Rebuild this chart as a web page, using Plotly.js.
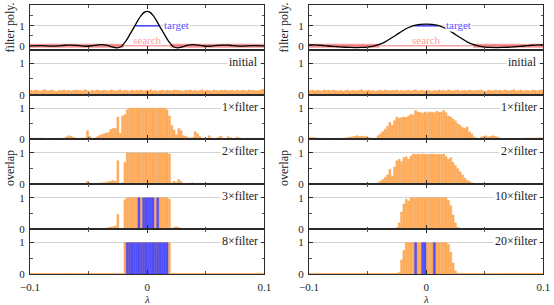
<!DOCTYPE html>
<html><head><meta charset="utf-8">
<script src="https://cdn.plot.ly/plotly-3.0.1.min.js"></script>
<style>html,body{margin:0;padding:0;background:#fff}#plot{width:554px;height:305px}</style>
</head><body><div id="plot"></div>
<script>
// eigenvalue positions (lambda)
const lambdas = [-0.099,-0.097,-0.095,-0.093,-0.091,-0.089,-0.087,-0.085,-0.083,-0.081,
-0.079,-0.077,-0.075,-0.073,-0.071,-0.069,-0.067,-0.065,-0.063,-0.061,
-0.059,-0.057,-0.055,-0.053,-0.051,-0.049,-0.047,-0.045,-0.043,-0.041,
-0.039,-0.037,-0.035,-0.033,-0.031,-0.029,-0.027,-0.025,-0.023,-0.021,
-0.019,-0.017,-0.015,-0.013,-0.011,-0.009,-0.007,-0.005,-0.003,-0.001,
0.001,0.003,0.005,0.007,0.009,0.011,0.013,0.015,0.017,0.019,
0.021,0.023,0.025,0.027,0.029,0.031,0.033,0.035,0.037,0.039,
0.041,0.043,0.045,0.047,0.049,0.051,0.053,0.055,0.057,0.059,
0.061,0.063,0.065,0.067,0.069,0.071,0.073,0.075,0.077,0.079,
0.081,0.083,0.085,0.087,0.089,0.091,0.093,0.095,0.097,0.099];

// filter polynomials
const polyLeftX = [-0.1,-0.09,-0.08,-0.07,-0.065,-0.06,-0.055,-0.05,-0.045,-0.04,-0.035,-0.03,-0.026,-0.022,-0.02,-0.0175,-0.015,-0.0125,-0.01,-0.0075,-0.005,-0.0025,0,
0.0025,0.005,0.0075,0.01,0.0125,0.015,0.0175,0.02,0.022,0.026,0.03,0.035,0.04,0.045,0.05,0.055,0.06,0.065,0.07,0.08,0.09,0.1];
const polyLeftY = [0.0,0.01,-0.01,0.03,0.04,0.02,-0.01,-0.02,0.02,0.06,0.04,-0.05,-0.1,-0.03,0.1,0.3,0.55,0.8,1.05,1.32,1.53,1.68,1.73,
1.68,1.53,1.32,1.05,0.8,0.55,0.3,0.1,-0.03,-0.1,-0.05,0.04,0.06,0.02,-0.02,-0.01,0.02,0.04,0.03,-0.01,0.01,0.0];
const polyRightX = [-0.1,-0.095,-0.09,-0.085,-0.08,-0.075,-0.07,-0.065,-0.06,-0.055,-0.05,-0.045,-0.04,-0.035,-0.03,-0.025,-0.02,-0.015,-0.01,-0.005,0,
0.005,0.01,0.015,0.02,0.025,0.03,0.035,0.04,0.045,0.05,0.055,0.06,0.065,0.07,0.075,0.08,0.085,0.09,0.095,0.1];
const polyRightY = [0.05,0.05,0.03,0.0,-0.03,-0.05,-0.07,-0.08,-0.085,-0.08,-0.06,-0.01,0.07,0.2,0.38,0.57,0.76,0.92,1.03,1.08,1.09,
1.08,1.03,0.92,0.76,0.57,0.38,0.2,0.07,-0.01,-0.06,-0.08,-0.085,-0.08,-0.07,-0.05,-0.03,0.0,0.03,0.05,0.05];

// target window and search (stop band) specification
const targetX = [-0.01, 0.01];
const targetY = [1, 1];
const searchLeftEdge = 0.02;
const searchRightEdge = 0.04;
const searchTol = 0.1;

// overlaps, left column
const leftInitial = [0.14,0.12,0.15,0.13,0.11,0.14,0.16,0.12,0.13,0.15,
0.12,0.10,0.14,0.13,0.15,0.12,0.14,0.11,0.13,0.15,
0.13,0.14,0.12,0.16,0.13,0.11,0.14,0.12,0.15,0.13,
0.12,0.14,0.13,0.11,0.15,0.14,0.12,0.13,0.16,0.12,
0.14,0.13,0.11,0.15,0.12,0.14,0.13,0.15,0.12,0.14,
0.13,0.16,0.12,0.14,0.11,0.13,0.15,0.12,0.14,0.13,
0.12,0.15,0.13,0.14,0.12,0.11,0.14,0.13,0.15,0.12,
0.14,0.12,0.13,0.16,0.12,0.14,0.13,0.11,0.15,0.13,
0.12,0.14,0.13,0.15,0.12,0.13,0.14,0.11,0.15,0.12,
0.14,0.13,0.12,0.15,0.13,0.14,0.12,0.13,0.15,0.17];
const left1x = [0.02,0.04,0.05,0.03,0.05,0.04,0.03,0.01,0.00,0.02,
0.03,0.03,0.02,0.04,0.03,0.08,0.12,0.10,0.07,0.05,
0.03,0.05,0.04,0.05,0.28,0.10,0.05,0.02,0.08,0.12,
0.15,0.18,0.20,0.22,0.32,0.35,0.36,0.72,0.20,0.75,
0.80,0.95,1,1,1,1,1,1,1,1,
1,1,1,1,1,1,1,1,0.95,0.75,
0.45,0.30,0.15,0.35,0.28,0.12,0.10,0.06,0.05,0.06,
0.25,0.18,0.10,0.03,0.05,0.04,0.12,0.05,0.02,0.03,
0.08,0.10,0.04,0.03,0.09,0.06,0.02,0.04,0.08,0.05,
0.02,0.03,0.05,0.04,0.02,0.05,0.03,0.04,0.02,0.03];
const left2x = [0,0,0,0,0.01,0,0,0,0,0,
0,0,0,0,0.01,0.02,0.01,0,0,0.01,
0.02,0.01,0.03,0.02,0.10,0.03,0.02,0.03,0.04,0.03,
0.05,0.05,0.06,0.08,0.10,0.12,0.10,0.75,0.02,0.05,
0.70,1,1,1,1,1,1,1,1,1,
1,1,1,1,1,1,1,1,1,0.97,
0.05,0.10,0.06,0.15,0.08,0.02,0.01,0.02,0.04,0.05,
0.02,0.04,0.01,0.01,0.02,0.01,0.02,0.01,0.01,0.02,
0.01,0,0.01,0,0.01,0,0,0.01,0,0,
0,0.01,0,0,0,0.01,0,0,0,0];
const left3x = [0,0,0,0,0,0,0,0,0,0,
0,0,0,0,0,0.01,0,0,0,0,
0.01,0,0.01,0.01,0.03,0.01,0.01,0.01,0.02,0.01,
0.01,0.02,0.03,0.05,0.07,0.08,0.10,0.47,0,0.02,
0.94,1,1,1,1,1,1,1,1,1,
1,1,1,1,1,1,1,1,1,0.95,
0.02,0.05,0.08,0.05,0.03,0.01,0.01,0.01,0.01,0.01,
0.01,0.02,0,0,0.01,0,0,0,0,0,
0,0,0,0,0,0,0,0,0,0,
0,0,0,0,0,0,0,0,0,0];
const left8x = [0.02,0.02,0.02,0.02,0.02,0.02,0.02,0.02,0.02,0.02,
0.02,0.02,0.02,0.02,0.02,0.02,0.02,0.02,0.02,0.02,
0.02,0.02,0.02,0.02,0.02,0.02,0.02,0.02,0.02,0.02,
0.02,0.02,0.02,0.02,0.02,0.02,0.02,0.02,0.02,0.02,
1,1,1,1,1,1,1,1,1,1,
1,1,1,1,1,1,1,1,1,1,
0.02,0.02,0.02,0.02,0.02,0.02,0.02,0.02,0.02,0.02,
0.02,0.02,0.02,0.02,0.02,0.02,0.02,0.02,0.02,0.02,
0.02,0.02,0.02,0.02,0.02,0.02,0.02,0.02,0.02,0.02,
0.02,0.02,0.02,0.02,0.02,0.02,0.02,0.02,0.02,0.02];
const left3Blue = [-0.007,-0.003,-0.001,0.001,0.003,0.005,0.009];
const left3BlueVal = [1,1,1,1,1,1,1];
const left8Blue = [-0.017,-0.015,-0.013,-0.011,-0.009,-0.007,-0.005,-0.003,-0.001,0.001,0.003,0.005,0.007,0.009,0.011,0.013,0.015,0.017];
const left8BlueVal = [1,1,1,1,1,1,1,1,1,1,1,1,1,1,1,1,1,1];

// overlaps, right column
const rightInitial = [0.13,0.15,0.12,0.14,0.13,0.11,0.15,0.13,0.14,0.12,
0.15,0.13,0.12,0.14,0.11,0.13,0.15,0.12,0.14,0.13,
0.12,0.14,0.16,0.12,0.13,0.15,0.12,0.14,0.11,0.13,
0.14,0.12,0.15,0.13,0.12,0.14,0.13,0.15,0.11,0.14,
0.12,0.13,0.15,0.12,0.14,0.16,0.12,0.13,0.14,0.12,
0.15,0.13,0.11,0.14,0.12,0.15,0.13,0.14,0.12,0.16,
0.13,0.12,0.14,0.15,0.11,0.13,0.14,0.12,0.15,0.13,
0.12,0.14,0.13,0.15,0.12,0.11,0.14,0.13,0.12,0.15,
0.13,0.14,0.12,0.15,0.13,0.12,0.14,0.16,0.12,0.13,
0.15,0.12,0.14,0.13,0.11,0.15,0.13,0.12,0.14,0.15];
const right1x = [0.07,0.06,0.06,0.05,0.05,0.04,0.04,0.03,0.03,0.02,
0.02,0.01,0.00,0.03,0.04,0.05,0.06,0.08,0.09,0.10,
0.12,0.10,0.11,0.09,0.10,0.06,0.04,0.02,0.05,0.12,
0.18,0.25,0.33,0.42,0.55,0.45,0.60,0.72,0.68,0.70,
0.72,0.70,0.75,0.80,0.78,0.92,0.88,0.86,0.84,0.88,
0.85,0.88,0.87,0.85,0.90,0.87,0.88,0.92,0.85,0.75,
0.72,0.65,0.60,0.50,0.45,0.38,0.35,0.40,0.25,0.18,
0.08,0.05,0.04,0.08,0.10,0.12,0.08,0.10,0.12,0.10,
0.08,0.05,0.04,0.03,0.02,0.01,0.00,0.01,0.02,0.03,
0.03,0.04,0.05,0.04,0.05,0.04,0.05,0.04,0.06,0.05];
const right2x = [0,0,0,0,0,0,0,0,0,0,
0,0,0,0,0,0,0.01,0.01,0.01,0.01,
0.01,0,0,0,0,0,0,0,0.02,0.05,
0.10,0.15,0.22,0.30,0.47,0.25,0.55,0.75,0.80,0.72,
0.85,0.88,0.80,0.90,0.97,0.95,0.96,0.95,0.97,0.96,
0.95,0.96,0.97,0.96,0.95,0.96,0.95,0.97,0.88,0.80,
0.85,0.70,0.60,0.50,0.40,0.30,0.20,0.12,0.10,0.05,
0.03,0.02,0.01,0.01,0,0,0,0,0,0,
0.01,0.02,0.01,0.01,0,0,0,0,0,0,
0,0,0,0,0,0,0,0,0,0];
const right10x = [0,0,0,0,0,0,0,0,0,0,
0,0,0,0,0,0,0,0,0,0,
0,0,0,0,0,0,0,0,0,0,
0,0,0,0,0,0,0,0.05,0.20,0.55,
0.80,0.95,0.90,1,1,1,1,1,1,1,
1,1,1,1,1,1,1,1,1,0.92,
0.75,0.45,0.20,0.05,0,0,0,0,0,0,
0,0,0,0,0,0,0,0,0,0,
0,0,0,0,0,0,0,0,0,0,
0,0,0,0,0,0,0,0,0,0];
const right20x = [0.02,0.02,0.02,0.02,0.02,0.02,0.02,0.02,0.02,0.02,
0.02,0.02,0.02,0.02,0.02,0.02,0.02,0.02,0.02,0.02,
0.02,0.02,0.02,0.02,0.02,0.02,0.02,0.02,0.02,0.02,
0.02,0.02,0.02,0.02,0.02,0.02,0.02,0.02,0.05,0.45,
0.75,1,1,1,1,1,1,1,1,1,
1,1,1,1,1,1,1,1,1,0.95,
0.70,0.35,0.10,0.02,0.02,0.02,0.02,0.02,0.02,0.02,
0.02,0.02,0.02,0.02,0.02,0.02,0.02,0.02,0.02,0.02,
0.02,0.02,0.02,0.02,0.02,0.02,0.02,0.02,0.02,0.02,
0.02,0.02,0.02,0.02,0.02,0.02,0.02,0.02,0.02,0.02];
const right20Blue = [-0.009,-0.003,-0.001,0.007];
const right20BlueVal = [1,1,1,1];

const leftLabels = ['initial','1×filter','2×filter','3×filter','8×filter'];
const rightLabels = ['initial','1×filter','2×filter','10×filter','20×filter'];
const leftBars = [leftInitial,left1x,left2x,left3x,left8x];
const rightBars = [rightInitial,right1x,right2x,right10x,right20x];
const leftBlue = [null,null,null,[left3Blue,left3BlueVal],[left8Blue,left8BlueVal]];
const rightBlue = [null,null,null,null,[right20Blue,right20BlueVal]];

// ---------- drawing ----------
const W=554, H=305;
const FONT='Liberation Serif, DejaVu Serif, serif';
const ORANGE='#ffad5e', ORANGE_LINE='#f79b3c', BLUE='#5252ff', BLUE_LINE='#3c3cf0';
const cols=[[30,264.3],[309,543.3]];
const top0=5, ph=44.83;
const ax = k => k===1 ? '' : String(k);
const layout = {width:W,height:H,margin:{l:0,r:0,t:0,b:0},paper_bgcolor:'#fff',plot_bgcolor:'#fff',
  showlegend:false,barmode:'overlay',hovermode:false,annotations:[],font:{family:FONT,color:'#222',size:11}};
const traces=[];

for(let r=0;r<6;r++){
  for(let c=0;c<2;c++){
    const k=r*2+c+1;
    const t=top0+r*ph, b=t+ph;
    layout['xaxis'+ax(k)] = {domain:[cols[c][0]/W, cols[c][1]/W], anchor:'y'+ax(k), range:[-0.1,0.1],
      showline:true, mirror:'ticks', linecolor:'#2a2a2a', linewidth:1, ticks:'inside', ticklen:4, tickcolor:'#2a2a2a',
      tickvals:[-0.1,0,0.1], ticktext:['−0.1','0','0.1'], showticklabels:r===5, showgrid:false, zeroline:false,
      tickfont:{family:FONT,size:11,color:'#222'}, ticklabelstandoff:3,
      minor:{tickvals:[-0.05,0.05], ticks:'inside', ticklen:2.5, tickcolor:'#555', showgrid:false}};
    layout['yaxis'+ax(k)] = {domain:[1-b/H, 1-t/H], anchor:'x'+ax(k), range: r===0?[-0.2,2.05]:[0,1.43],
      showline:true, mirror:'ticks', linecolor:'#2a2a2a', linewidth:1, ticks:'inside', ticklen:3.5, tickcolor:'#2a2a2a',
      tickvals:[0,1], ticktext:['0','1'], showgrid:true, gridcolor:'#d4d4d4', gridwidth:1, zeroline:false,
      tickfont:{family:FONT,size:11,color:'#222'}, ticklabelstandoff:2,
      minor:{tickvals: r===0?[0.5,1.5]:[0.5], ticks:'inside', ticklen:2.5, tickcolor:'#555', showgrid:false}};
    const xa='x'+ax(k), ya='y'+ax(k);
    if(r===0){
      const edge = c===0?searchLeftEdge:searchRightEdge;
      const px = c===0?polyLeftX:polyRightX, py=c===0?polyLeftY:polyRightY;
      traces.push({type:'scatter',mode:'lines',x:[-0.1,0.1],y:[0,0],xaxis:xa,yaxis:ya,line:{color:'#ff8a8a',width:1}});
      traces.push({type:'scatter',mode:'lines',x:[-0.1,-edge,-edge,-0.1,-0.1],y:[-searchTol,-searchTol,searchTol,searchTol,-searchTol],
        xaxis:xa,yaxis:ya,fill:'toself',fillcolor:'rgba(240,90,90,0.6)',line:{width:0}});
      traces.push({type:'scatter',mode:'lines',x:[edge,0.1,0.1,edge,edge],y:[-searchTol,-searchTol,searchTol,searchTol,-searchTol],
        xaxis:xa,yaxis:ya,fill:'toself',fillcolor:'rgba(240,90,90,0.6)',line:{width:0}});
      traces.push({type:'scatter',mode:'lines',x:targetX,y:targetY,xaxis:xa,yaxis:ya,line:{color:'#2020ff',width:1.3}});
      traces.push({type:'scatter',mode:'lines',x:px,y:py,xaxis:xa,yaxis:ya,line:{color:'#000',width:1.3,shape:'spline',smoothing:0.8}});
      layout.annotations.push({xref:xa,yref:ya,x:c===0?0.0135:0.0165,y:1.03,text:'target',showarrow:false,xanchor:'left',yanchor:'middle',
        bgcolor:'#fff',borderpad:0,font:{family:FONT,size:11,color:'#5555ff'}});
      layout.annotations.push({xref:xa,yref:ya,x:0,y:0.3,text:'search',showarrow:false,xanchor:'center',yanchor:'middle',
        font:{family:FONT,size:11,color:'#ffa0a0'}});
    } else {
      const vals = (c===0?leftBars:rightBars)[r-1];
      traces.push({type:'bar',x:lambdas,y:vals,width:0.0017,xaxis:xa,yaxis:ya,marker:{color:ORANGE,line:{color:ORANGE_LINE,width:0.4}}});
      const bl=(c===0?leftBlue:rightBlue)[r-1];
      if(bl){
        traces.push({type:'bar',x:bl[0],y:bl[1],width:0.0017,xaxis:xa,yaxis:ya,marker:{color:BLUE,line:{color:BLUE_LINE,width:0.4}}});
      }
      layout.annotations.push({xref:xa,yref:ya,x:0.096,y:1.05,text:(c===0?leftLabels:rightLabels)[r-1],showarrow:false,
        xanchor:'right',yanchor:'middle',bgcolor:'#fff',borderpad:1,font:{family:FONT,size:12,color:'#222'}});
    }
  }
}
// axis titles
const yl=[[10,'filter poly.',27.4],[10,'overlap',168],[284,'filter poly.',27.4],[284,'overlap',168]];
yl.forEach(([x,t,y])=>layout.annotations.push({xref:'paper',yref:'paper',x:x/W,y:1-y/H,text:t,textangle:-90,showarrow:false,
  xanchor:'center',yanchor:'middle',font:{family:FONT,size:12,color:'#222'}}));
[147,426].forEach(x=>layout.annotations.push({xref:'paper',yref:'paper',x:x/W,y:1-298.5/H,text:'<i>λ</i>',showarrow:false,
  xanchor:'center',yanchor:'middle',borderpad:0,font:{family:FONT,size:11,color:'#222'}}));

Plotly.newPlot('plot',traces,layout,{staticPlot:true,displayModeBar:false});
</script></body></html>
